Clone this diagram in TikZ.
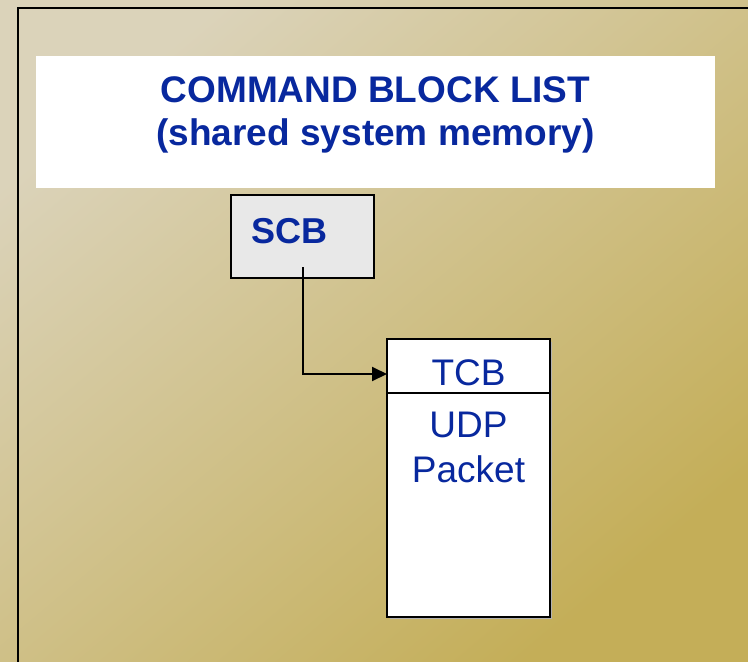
\documentclass[tikz,border=0pt]{standalone}
\usepackage{fontspec}
\setmainfont{Liberation Sans}
\usetikzlibrary{arrows.meta}
\definecolor{bgLight}{RGB}{219,211,186}
\definecolor{bgDark}{RGB}{196,174,88}
\definecolor{inkBlue}{RGB}{8,40,158}
\definecolor{scbGray}{RGB}{232,232,232}
\begin{document}
\begin{tikzpicture}[x=1pt,y=-1pt,
  box/.style={draw=black,line width=2pt},
  label/.style={text=inkBlue,inner sep=0pt,anchor=base,font=\fontsize{37}{45}\selectfont},
  heading/.style={label,font=\fontsize{37}{43}\selectfont\bfseries},
  link/.style={draw=black,line width=2pt,-{Triangle[length=15pt,width=14pt]}}]
  % page background with diagonal gradient
  \useasboundingbox (0,0) rectangle (748,662);
  \shade[shading=axis,top color=bgLight,bottom color=bgDark,shading angle=40]
    (0,0) rectangle (748,662);
  % outer frame, running past the right and bottom edges
  \begin{scope}
    \clip (0,0) rectangle (748,662);
    \draw[line width=2.2pt] (18,8) rectangle (770,690);
  \end{scope}
  % title panel
  \fill[white] (36,56) rectangle (715,188);
  \node[heading] (title) at (375.5,102) {COMMAND BLOCK LIST};
  \node[heading] (subtitle) at (375.5,145) {(shared system memory)};
  % SCB box
  \draw[box,fill=scbGray] (231,195) rectangle (374,278);
  \node[heading,font=\fontsize{36}{40}\selectfont\bfseries,anchor=base west]
    (scb) at (251,243) {SCB};
  \coordinate (scbout) at (302.5,267);
  % TCB / UDP packet block
  \fill[black!30] (390,342) rectangle (552,619);
  \draw[box,fill=white] (387,339) rectangle (550,617);
  \draw[box] (387,393) -- (550,393);
  \coordinate (tcbin) at (387,374);
  \node[label] (tcb) at (468.5,385) {TCB};
  \node[label] (udp) at (468.5,437) {UDP};
  \node[label] (packet) at (468.5,482) {Packet};
  % pointer from SCB to TCB
  \draw[link] (scbout) |- (tcbin);
\end{tikzpicture}
\end{document}
